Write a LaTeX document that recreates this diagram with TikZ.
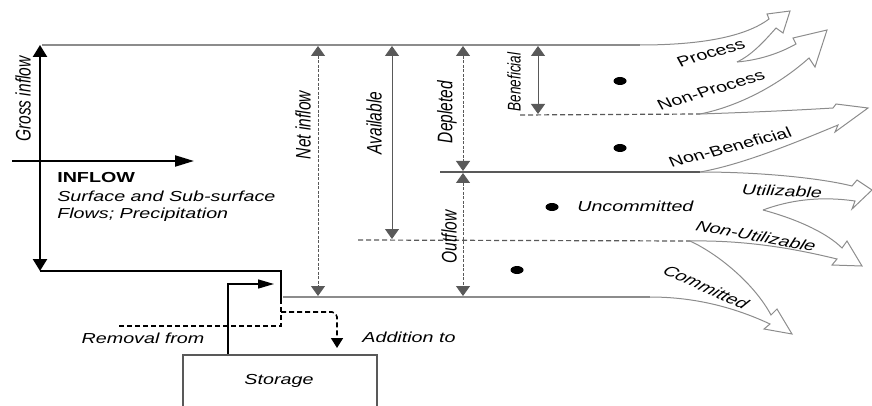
\documentclass[tikz,border=0pt]{standalone}
\usepackage{fontspec}
\setmainfont{Liberation Sans}
\usetikzlibrary{arrows.meta,shapes.geometric}
\definecolor{lgray}{gray}{0.55}
\definecolor{dgray}{gray}{0.35}
\begin{document}
\begin{tikzpicture}[x=1pt,y=-1pt,
  lbl/.style={font=\fontsize{14.5}{16}\selectfont\itshape, inner sep=0pt, xscale=1.36},
  rlbl/.style={font=\fontsize{14.5}{16}\selectfont, inner sep=0pt, xscale=1.36},
  blbl/.style={font=\fontsize{14.5}{16}\selectfont\bfseries, inner sep=0pt, xscale=1.36},
  vlbl/.style={font=\fontsize{15.5}{17}\selectfont\itshape, inner sep=0pt, xscale=1.36, rotate=90},
  thick black/.style={line width=2.4pt, black},
  dim/.style={dgray, line width=0.9pt, {Triangle[width=14pt,length=10pt]}-{Triangle[width=14pt,length=10pt]}},
  dimd/.style={dim, dash pattern=on 3pt off 1.5pt},
  flow/.style={lgray, line width=1pt, line join=miter},
  guide/.style={lgray, line width=1.1pt},
  sep/.style={dgray, line width=1.2pt},
  sepd/.style={dgray, line width=1.2pt, dash pattern=on 5pt off 3pt},
  dotm/.style={fill=black, draw=none, ellipse, minimum width=13pt, minimum height=8pt, inner sep=0pt}
]
\clip (0,0) rectangle (872,406);
\useasboundingbox (0,0) rectangle (872,406);

% key coordinates
\coordinate (gTop) at (40,45);
\coordinate (gBot) at (40,271);
\coordinate (inL) at (12,161);
\coordinate (inR) at (194,161);
\coordinate (cornerR) at (281,271);
\coordinate (sBot) at (281,299);
\coordinate (dBot) at (281,326);
\coordinate (dLeft) at (118,326);
\coordinate (addStart) at (281,312);
\coordinate (addEnd) at (337,348);
\coordinate (remStart) at (228,356);
\coordinate (remEnd) at (274,284);
\coordinate (topEnd) at (640,45);
\coordinate (botStart) at (283,297);
\coordinate (botEnd) at (650,297);

% gross inflow and inflow arrows
\draw[thick black, {Triangle[width=14pt,length=12pt]}-{Triangle[width=14pt,length=12pt]}] (gBot) -- (gTop);
\draw[line width=2pt, black, -{Triangle[width=11pt,length=19pt]}] (inL) -- (inR);
\draw[line width=2pt, black] (40,271) -- (cornerR) -- (sBot);
\draw[line width=1.6pt, black, dash pattern=on 5pt off 3pt] (sBot) -- (dBot) -- (dLeft);
\draw[line width=1.6pt, black, dash pattern=on 5pt off 3pt, rounded corners=5pt, -{Triangle[width=12pt,length=10pt]}] (addStart) -- (337,312) -- (addEnd);
\draw[line width=1.5pt, black, -{Triangle[width=9pt,length=16pt]}] (remStart) -- (228,284) -- (remEnd);

% storage box
\draw[dgray, line width=1.4pt] (183,420) -- (183,355) -- (377,355) -- (377,420);
\node[lbl] (storage) at (279,381) {Storage};
\node[lbl] (removal) at (143,338) {Removal from};
\node[lbl] (addition) at (409,337) {Addition to};

% texts left
\node[vlbl] (gross) at (23,99) {Gross inflow};
\node[blbl, anchor=west] (inflow) at (57,178) {INFLOW};
\node[lbl, anchor=west] (surf) at (57,196) {Surface and Sub-surface};
\node[lbl, anchor=west] (flows) at (57,215) {Flows; Precipitation};

% guide lines
\draw[guide] (42,45) -- (topEnd);
\draw[guide] (botStart) -- (botEnd);
\draw[sep] (440,172) -- (700,172);
\draw[sepd] (358,240) -- (690,241);
\draw[sepd] (520,115) -- (700,114);

% dimension arrows
\draw[dimd] (318,46) -- (318,296);
\draw[dim] (392,46) -- (392,239);
\draw[dimd] (463,46) -- (463,171);
\draw[dimd] (463,173) -- (463,296);
\draw[dim] (538,46) -- (538,114);
\node[vlbl] (net) at (303,125) {Net inflow};
\node[vlbl] (avail) at (374,123) {Available};
\node[vlbl] (depl) at (447,112) {Depleted};
\node[vlbl] (outf) at (449,237) {Outflow};
\node[vlbl, font=\fontsize{13.5}{15}\selectfont\itshape] (benef) at (514,82) {Beneficial};

% dots
\node[dotm] (d1) at (620,81) {};
\node[dotm] (d2) at (620,148) {};
\node[dotm] (d3) at (552,207) {};
\node[dotm] (d4) at (517,270) {};
\node[lbl, anchor=west] (uncom) at (577,206) {Uncommitted};

% flow arrows
% Process
\draw[flow] (topEnd) .. controls (700,45) and (745,37) .. (769,19)
  -- (767,14) -- (790,11) -- (783,33) -- (776,28)
  .. controls (762,44) and (750,56) .. (737,62);
% Non-Process
\draw[flow] (737,62) .. controls (760,60) and (780,53) .. (796,44)
  -- (793,38) -- (827,30) -- (815,67) -- (809,58)
  .. controls (780,84) and (740,106) .. (700,114);
% Non-Beneficial
\draw[flow] (700,114) .. controls (760,112) and (800,110) .. (833,108)
  -- (836,104) -- (868,108) -- (835,132) -- (838,125)
  .. controls (790,145) and (740,165) .. (700,172);
% Utilizable
\draw[flow] (700,172) .. controls (760,172) and (820,178) .. (852,186)
  -- (857,180) -- (872,190) -- (852,209) -- (855,201)
  .. controls (820,196) and (790,200) .. (763,210);
% Non-Utilizable
\draw[flow] (763,210) .. controls (800,220) and (828,234) .. (842,248)
  -- (847,241) -- (862,266) -- (832,265) -- (837,259)
  .. controls (800,250) and (750,240) .. (690,241);
% Committed
\draw[flow] (690,241) .. controls (720,255) and (755,285) .. (771,315)
  -- (777,309) -- (792,334) -- (764,329) -- (770,324)
  .. controls (740,310) and (700,297) .. (botEnd);

% flow labels
\node[rlbl, rotate=22] (proc) at (711,53) {Process};
\node[rlbl, rotate=22] (nproc) at (711,90) {Non-Process};
\node[rlbl, rotate=19] (nben) at (730,147) {Non-Beneficial};
\node[lbl, rotate=-3] (util) at (782,191) {Utilizable};
\node[lbl, rotate=-14] (nutil) at (756,236) {Non-Utilizable};
\node[lbl, rotate=-31] (comm) at (706,287) {Committed};
\end{tikzpicture}
\end{document}
